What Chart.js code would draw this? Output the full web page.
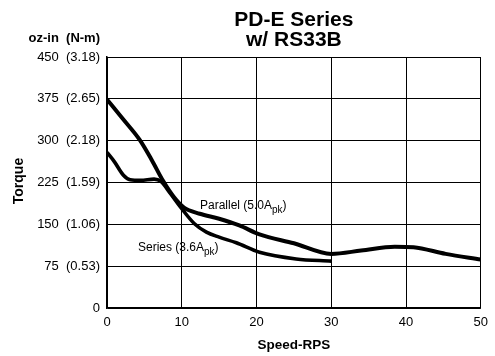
<!DOCTYPE html>
<html>
<head>
<meta charset="utf-8">
<script src="https://cdn.jsdelivr.net/npm/chart.js@4/dist/chart.umd.min.js"></script>
<style>
  html, body { margin: 0; padding: 0; background: #fff; }
  #wrap { width: 495px; height: 356px; }
</style>
</head>
<body>
<div id="wrap"><canvas id="torqueChart" width="495" height="356"></canvas></div>
<script>
// ─── Data ───────────────────────────────────────────────────────────────
const parallelSpeed  = [0, 2, 4.4, 6, 7.5, 9, 10.3, 12.4, 15, 17.7, 20.4, 25, 30, 34, 38.5, 41, 45.3, 50];
const parallelTorque = [374, 341, 301, 265, 228, 198, 180, 169, 160, 148, 132, 116, 97, 103, 110, 109, 97, 87];

const seriesSpeed  = [0, 1, 2.2, 3.1, 4.5, 6.3, 7.2, 8.5, 10, 11.7, 13.3, 15, 17.3, 20.4, 25.3, 30];
const seriesTorque = [279, 262, 238, 230, 229, 231, 227, 205, 178, 151, 136, 127, 117, 100, 88, 84];

const ozTicks = [0, 75, 150, 225, 300, 375, 450];
const nmTicks = ["", "(0.53)", "(1.06)", "(1.59)", "(2.18)", "(2.65)", "(3.18)"];
const speedTicks = [0, 10, 20, 30, 40, 50];

const FONT = "'Liberation Sans', Arial, Helvetica, sans-serif";

function toPoints(xs, ys) {
  return xs.map((x, i) => ({ x, y: ys[i] }));
}

// ─── Text overlay: title, axis captions, curve labels ───────────────────
function labelWithSub(ctx, x, y, main, sub, tail) {
  ctx.font = `12px ${FONT}`;
  ctx.fillText(main, x, y);
  let w = ctx.measureText(main).width;
  ctx.font = `10px ${FONT}`;
  ctx.fillText(sub, x + w, y + 4);
  w += ctx.measureText(sub).width;
  ctx.font = `12px ${FONT}`;
  ctx.fillText(tail, x + w, y);
}

const overlay = {
  id: "overlay",
  afterDraw(chart) {
    const { ctx, chartArea } = chart;
    const cx = (chartArea.left + chartArea.right) / 2;
    ctx.save();
    ctx.fillStyle = "#000";
    ctx.textBaseline = "middle";
    ctx.textAlign = "center";

    ctx.font = `bold 21px ${FONT}`;
    ctx.fillText("PD-E Series", cx, 20);
    ctx.fillText("w/ RS33B", cx, 40);

    ctx.font = `bold 13.5px ${FONT}`;
    ctx.fillText("Speed-RPS", cx, 345);

    ctx.textAlign = "right";
    ctx.font = `bold 13px ${FONT}`;
    ctx.fillText("oz-in  (N-m)", 100, 38);

    ctx.save();
    ctx.translate(19, 181);
    ctx.rotate(-Math.PI / 2);
    ctx.textAlign = "center";
    ctx.font = `bold 14px ${FONT}`;
    ctx.fillText("Torque", 0, 0);
    ctx.restore();

    ctx.textAlign = "left";
    ctx.textBaseline = "alphabetic";
    labelWithSub(ctx, 200, 209, "Parallel (5.0A", "pk", ")");
    labelWithSub(ctx, 138, 251, "Series (3.6A", "pk", ")");
    ctx.restore();
  },
};

new Chart(document.getElementById("torqueChart"), {
  type: "line",
  data: {
    datasets: [
      {
        label: "Parallel (5.0Apk)",
        data: toPoints(parallelSpeed, parallelTorque),
        borderColor: "#000",
        borderWidth: 4,
        pointRadius: 0,
        cubicInterpolationMode: "monotone",
        fill: false,
      },
      {
        label: "Series (3.6Apk)",
        data: toPoints(seriesSpeed, seriesTorque),
        borderColor: "#000",
        borderWidth: 3.6,
        pointRadius: 0,
        cubicInterpolationMode: "monotone",
        fill: false,
      },
    ],
  },
  options: {
    responsive: false,
    animation: false,
    layout: { padding: { left: 0, top: 57, right: 12, bottom: 0 } },
    plugins: {
      legend: { display: false },
      title: { display: false },
      tooltip: { enabled: false },
    },
    scales: {
      x: {
        type: "linear",
        min: 0,
        max: 50,
        afterFit: (s) => { s.height = 48; },
        afterBuildTicks: (s) => { s.ticks = speedTicks.map((v) => ({ value: v })); },
        ticks: { color: "#000", font: { family: FONT, size: 13 }, padding: 7 },
        grid: { color: "#000", lineWidth: 1, drawTicks: false },
        border: { color: "#000", width: 1.5 },
      },
      y: {
        min: 0,
        max: 450,
        afterFit: (s) => { s.width = 107; },
        afterBuildTicks: (s) => { s.ticks = ozTicks.map((v) => ({ value: v })); },
        ticks: {
          color: "#000",
          font: { family: FONT, size: 13 },
          padding: 7,
          callback: (v) => {
            const i = ozTicks.indexOf(v);
            return nmTicks[i] ? `${v}  ${nmTicks[i]}` : `${v}`;
          },
        },
        grid: { color: "#000", lineWidth: 1, drawTicks: false },
        border: { color: "#000", width: 1.5 },
      },
    },
  },
  plugins: [overlay],
});
</script>
</body>
</html>
